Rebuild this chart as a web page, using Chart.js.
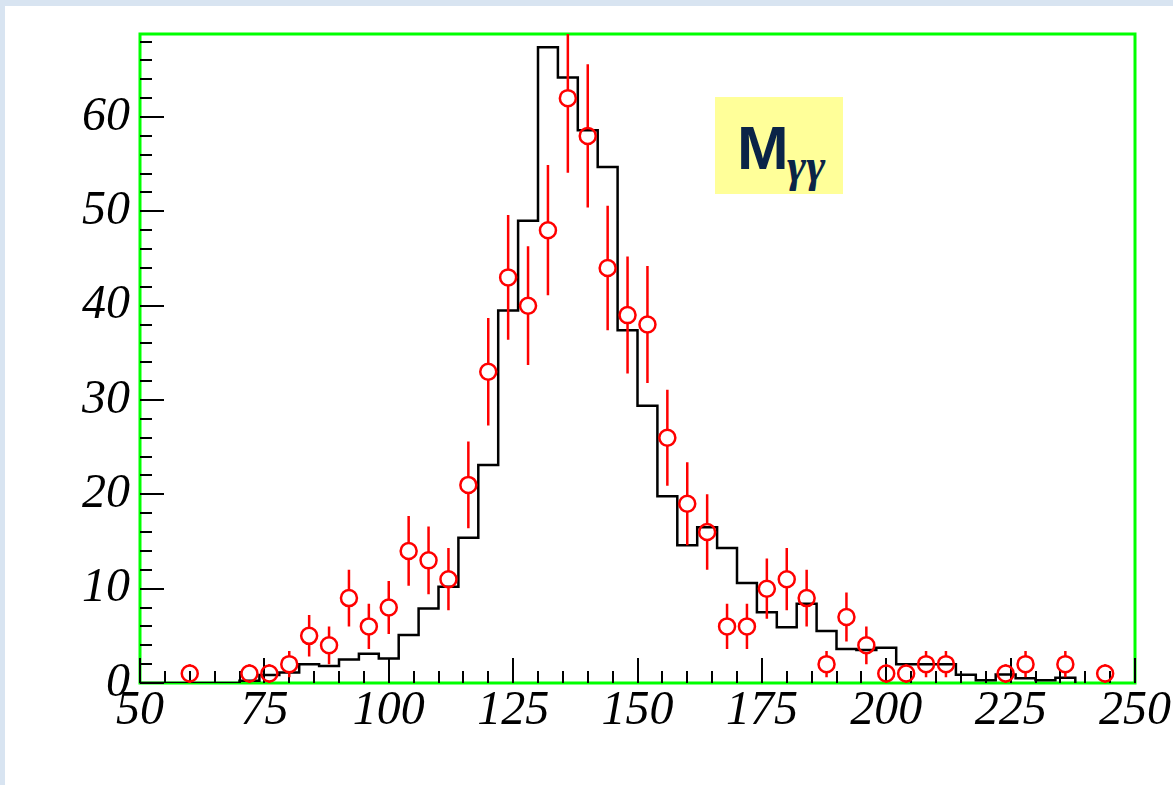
<!DOCTYPE html>
<html>
<head>
<meta charset="utf-8">
<script src="https://cdn.jsdelivr.net/npm/chart.js@4.4.1/dist/chart.umd.min.js"></script>
<style>
    html, body { margin: 0; padding: 0; }
    body { width: 1173px; height: 785px; background: #d8e4f1; position: relative; overflow: hidden; }
    #panel { position: absolute; left: 5px; top: 6px; width: 1168px; height: 779px; background: #fff; }
    #tag { position: absolute; left: 710px; top: 91px; width: 128px; height: 97px; background: #ffff99; overflow: hidden; color: #0a2447; }
    #tag .m { position: absolute; left: 22px; top: 20px; font: bold 62px "Liberation Sans", Arial, sans-serif; line-height: 1; }
    #tag .sub { position: absolute; left: 72px; top: 46px; font: italic bold 46px "Liberation Serif", "Times New Roman", serif; line-height: 1; }
</style>
</head>
<body>
<div id="panel">
    <canvas id="massChart"></canvas>
    <div id="tag"><span class="m">M</span><span class="sub">γγ</span></div>
</div>
<script>
// data points (bin centres, counts, errors)
const dataX = [60, 72, 76, 80, 84, 88, 92, 96, 100, 104, 108, 112, 116, 120, 124, 128, 132, 136, 140, 144,
               148, 152, 156, 160, 164, 168, 172, 176, 180, 184, 188, 192, 196, 200, 204, 208, 212, 224, 228, 236, 244];
const dataY = [1, 1, 1, 2, 5, 4, 9, 6, 8, 14, 13, 11, 21, 33, 43, 40, 48, 62, 58, 44,
               39, 38, 26, 19, 16, 6, 6, 10, 11, 9, 2, 7, 4, 1, 1, 2, 2, 1, 2, 2, 1];
const dataErr = [1, 1, 1, 1.4, 2.2, 2, 3, 2.4, 2.8, 3.7, 3.6, 3.3, 4.6, 5.7, 6.6, 6.3, 6.9, 7.9, 7.6, 6.6,
                 6.2, 6.2, 5.1, 4.4, 4, 2.4, 2.4, 3.2, 3.3, 3, 1.4, 2.6, 2, 1, 1, 1.4, 1.4, 1, 1.4, 1.4, 1];

// simulation histogram: 4-wide bins starting at 50
const mcLow = 50;
const mcBinWidth = 4;
const mcValues = [0, 0, 0, 0, 0, 0.25, 0.85, 1.1, 2.0, 1.8, 2.5, 3.1, 2.6, 5.1, 7.9, 10.2, 15.4, 23.1, 39.5, 49.0,
                  67.4, 64.2, 58.6, 54.7, 37.4, 29.4, 19.8, 14.6, 16.5, 14.3, 10.6, 7.5, 5.9, 8.4, 5.5, 3.6, 3.5, 3.75, 2.0, 2.0,
                  2.0, 0.88, 0.3, 0.9, 0.5, 0.3, 0.55];

const xTickLabels = [50, 75, 100, 125, 150, 175, 200, 225, 250];
const yTickLabels = [0, 10, 20, 30, 40, 50, 60];
const xMinorStep = 5;
const yMinorStep = 2;

const mcPoints = mcValues.map((v, i) => ({ x: mcLow + i * mcBinWidth, y: v }));
mcPoints.push({ x: mcLow + mcValues.length * mcBinWidth, y: 0 });

const markerRadius = 8;

// frame + inward ticks, drawn under the datasets
const framePlugin = {
    id: 'frame',
    beforeDatasetsDraw(chart) {
        const { ctx, chartArea: a, scales: { x, y } } = chart;
        ctx.save();
        ctx.strokeStyle = '#00ff00';
        ctx.lineWidth = 3;
        ctx.strokeRect(a.left, a.top, a.right - a.left, a.bottom - a.top);

        ctx.strokeStyle = '#000';
        ctx.lineWidth = 2;
        ctx.beginPath();
        for (let v = x.min; v <= x.max + 0.001; v += xMinorStep) {
            const px = Math.round(x.getPixelForValue(v));
            const len = xTickLabels.includes(v) ? 25 : 12;
            ctx.moveTo(px, a.bottom);
            ctx.lineTo(px, a.bottom - len);
        }
        for (let v = 0; v <= y.max; v += yMinorStep) {
            const py = Math.round(y.getPixelForValue(v));
            const len = yTickLabels.includes(v) ? 24 : 12;
            ctx.moveTo(a.left, py);
            ctx.lineTo(a.left + len, py);
        }
        ctx.stroke();
        ctx.restore();
    }
};

// vertical error bars, leaving the marker hollow
const errorBarPlugin = {
    id: 'errorBars',
    afterDatasetsDraw(chart) {
        const { ctx, chartArea: a, scales: { x, y } } = chart;
        ctx.save();
        ctx.beginPath();
        ctx.rect(a.left, a.top, a.right - a.left, a.bottom - a.top);
        ctx.clip();
        ctx.strokeStyle = '#ff0000';
        ctx.lineWidth = 2.5;
        ctx.beginPath();
        dataX.forEach((xv, i) => {
            const px = x.getPixelForValue(xv);
            const pc = y.getPixelForValue(dataY[i]);
            const pTop = y.getPixelForValue(dataY[i] + dataErr[i]);
            const pBot = y.getPixelForValue(dataY[i] - dataErr[i]);
            if (pc - pTop > markerRadius) {
                ctx.moveTo(px, pTop);
                ctx.lineTo(px, pc - markerRadius);
            }
            if (pBot - pc > markerRadius) {
                ctx.moveTo(px, pc + markerRadius);
                ctx.lineTo(px, pBot);
            }
        });
        ctx.stroke();
        ctx.restore();
    }
};

const tickFont = { family: '"Liberation Serif", "Times New Roman", serif', style: 'italic', size: 48, lineHeight: 1 };

new Chart(document.getElementById('massChart'), {
    type: 'scatter',
    data: {
        datasets: [
            {
                label: 'data',
                data: dataX.map((xv, i) => ({ x: xv, y: dataY[i] })),
                showLine: false,
                pointStyle: 'circle',
                pointRadius: markerRadius,
                pointBorderWidth: 2.5,
                borderColor: '#ff0000',
                backgroundColor: 'rgba(0,0,0,0)'
            },
            {
                label: 'MC',
                data: mcPoints,
                showLine: true,
                stepped: true,
                pointRadius: 0,
                borderColor: '#000',
                borderWidth: 2.5,
                fill: false
            }
        ]
    },
    options: {
        responsive: true,
        maintainAspectRatio: false,
        animation: false,
        layout: { padding: { left: 0, top: 28, right: 38, bottom: 0 } },
        plugins: {
            legend: { display: false },
            tooltip: { enabled: false }
        },
        scales: {
            x: {
                type: 'linear',
                min: 50,
                max: 250,
                grid: { display: false },
                border: { display: false },
                afterBuildTicks: (s) => { s.ticks = xTickLabels.map(v => ({ value: v })); },
                afterFit: (s) => { s.height = 102; },
                ticks: { color: '#000', font: tickFont, padding: -4, maxRotation: 0, autoSkip: false }
            },
            y: {
                type: 'linear',
                min: 0,
                max: 68.8,
                grid: { display: false },
                border: { display: false },
                afterBuildTicks: (s) => { s.ticks = yTickLabels.map(v => ({ value: v })); },
                afterFit: (s) => { s.width = 135; },
                ticks: { color: '#000', font: tickFont, padding: 2 }
            }
        }
    },
    plugins: [framePlugin, errorBarPlugin]
});
</script>
</body>
</html>
